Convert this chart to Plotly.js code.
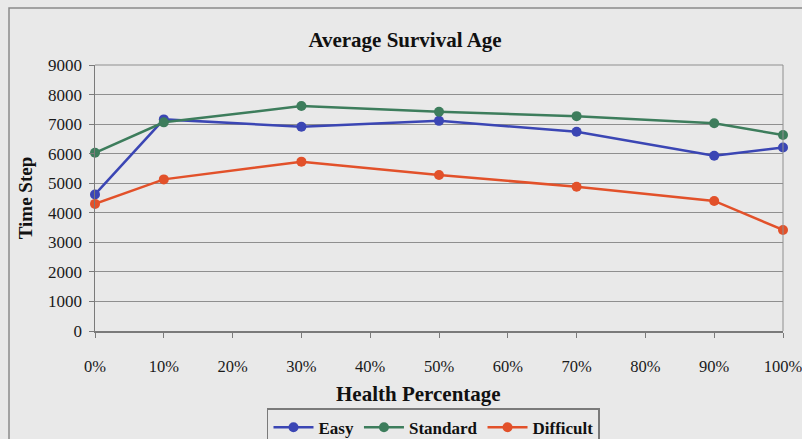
<!DOCTYPE html>
<html>
<head>
<meta charset="utf-8">
<script src="https://cdn.plot.ly/plotly-3.0.1.min.js"></script>
<style>html,body{margin:0;padding:0;background:#e9e9e9;}#chart{width:802px;height:439px;}</style>
</head>
<body>
<div id="chart"></div>
<script>
const healthPct = [0, 10, 30, 50, 70, 90, 100];
const easy = [4620, 7160, 6910, 7110, 6740, 5930, 6210];
const standard = [6030, 7060, 7610, 7420, 7270, 7030, 6630];
const difficult = [4300, 5130, 5730, 5280, 4880, 4400, 3420];
const xTickVals = [0, 10, 20, 30, 40, 50, 60, 70, 80, 90, 100];
const xTickText = ['0%', '10%', '20%', '30%', '40%', '50%', '60%', '70%', '80%', '90%', '100%'];
const yTickVals = [0, 1000, 2000, 3000, 4000, 5000, 6000, 7000, 8000, 9000];

const serif = 'Liberation Serif, Times New Roman, serif';
function tr(name, y, color) {
  return {
    type: 'scatter', mode: 'lines+markers', name: name,
    x: healthPct, y: y,
    line: {color: color, width: 2.5},
    marker: {color: color, size: 10},
    cliponaxis: false
  };
}
const data = [
  tr('Easy', easy, '#3b46b4'),
  tr('Standard', standard, '#3d7d5c'),
  tr('Difficult', difficult, '#e2512a')
];
const layout = {
  width: 802, height: 439,
  paper_bgcolor: '#e9e9e9', plot_bgcolor: '#e9e9e9',
  margin: {l: 95, r: 19, t: 65, b: 108, autoexpand: false},
  font: {family: serif, color: '#1a1a1a', size: 17},
  title: {text: '<b>Average Survival Age</b>', x: 0.505, xanchor: 'center', y: 0.91, yanchor: 'middle', font: {size: 21, family: serif, color: '#111'}},
  xaxis: {
    range: [0, 100], tickvals: xTickVals, ticktext: xTickText,
    showgrid: false, zeroline: false, showline: true, linecolor: '#7a7a7a', linewidth: 1.5,
    ticks: 'outside', ticklen: 5, tickcolor: '#7a7a7a', ticklabelstandoff: 15,
    ticklabeloverflow: 'allow',
    tickfont: {size: 16.5, family: serif, color: '#1a1a1a'}
  },
  yaxis: {
    range: [0, 9000], tickvals: yTickVals,
    showgrid: true, gridcolor: '#8f8f8f', gridwidth: 1, zeroline: false,
    showline: true, linecolor: '#7a7a7a', linewidth: 1.5,
    ticks: 'outside', ticklen: 5, tickcolor: '#7a7a7a', ticklabelstandoff: 3,
    tickfont: {size: 17, family: serif, color: '#1a1a1a'},
    title: {text: '<b>Time Step</b>', font: {size: 19, family: serif, color: '#111'}, standoff: 10}
  },
  annotations: [
    {text: '<b>Health Percentage</b>', xref: 'paper', yref: 'paper', x: 0.47, y: -0.235, xanchor: 'center', yanchor: 'middle', showarrow: false, font: {size: 21, family: serif, color: '#111'}}
  ],
  showlegend: true,
  legend: {
    orientation: 'h', x: 0.492, xanchor: 'center', y: -0.29, yanchor: 'top',
    bordercolor: '#7a7a7a', borderwidth: 1.5, bgcolor: '#e9e9e9',
    font: {size: 17, family: serif, color: '#111', weight: 'bold'},
    itemwidth: 40, tracegroupgap: 0
  },
  shapes: [
    {type: 'line', xref: 'paper', yref: 'paper', x0: 0, x1: 1, y0: 1, y1: 1, line: {color: '#8f8f8f', width: 1}},
    {type: 'line', xref: 'paper', yref: 'paper', x0: 1, x1: 1, y0: 0, y1: 1, line: {color: '#8f8f8f', width: 1}},
    {type: 'rect', xref: 'paper', yref: 'paper', x0: -0.125, x1: 1.2, y0: -0.6, y1: 1.214, line: {color: '#8a8a8a', width: 1.5}, fillcolor: 'rgba(0,0,0,0)', layer: 'below'}
  ]
};
Plotly.newPlot('chart', data, layout, {displayModeBar: false, staticPlot: true});
</script>
</body>
</html>
